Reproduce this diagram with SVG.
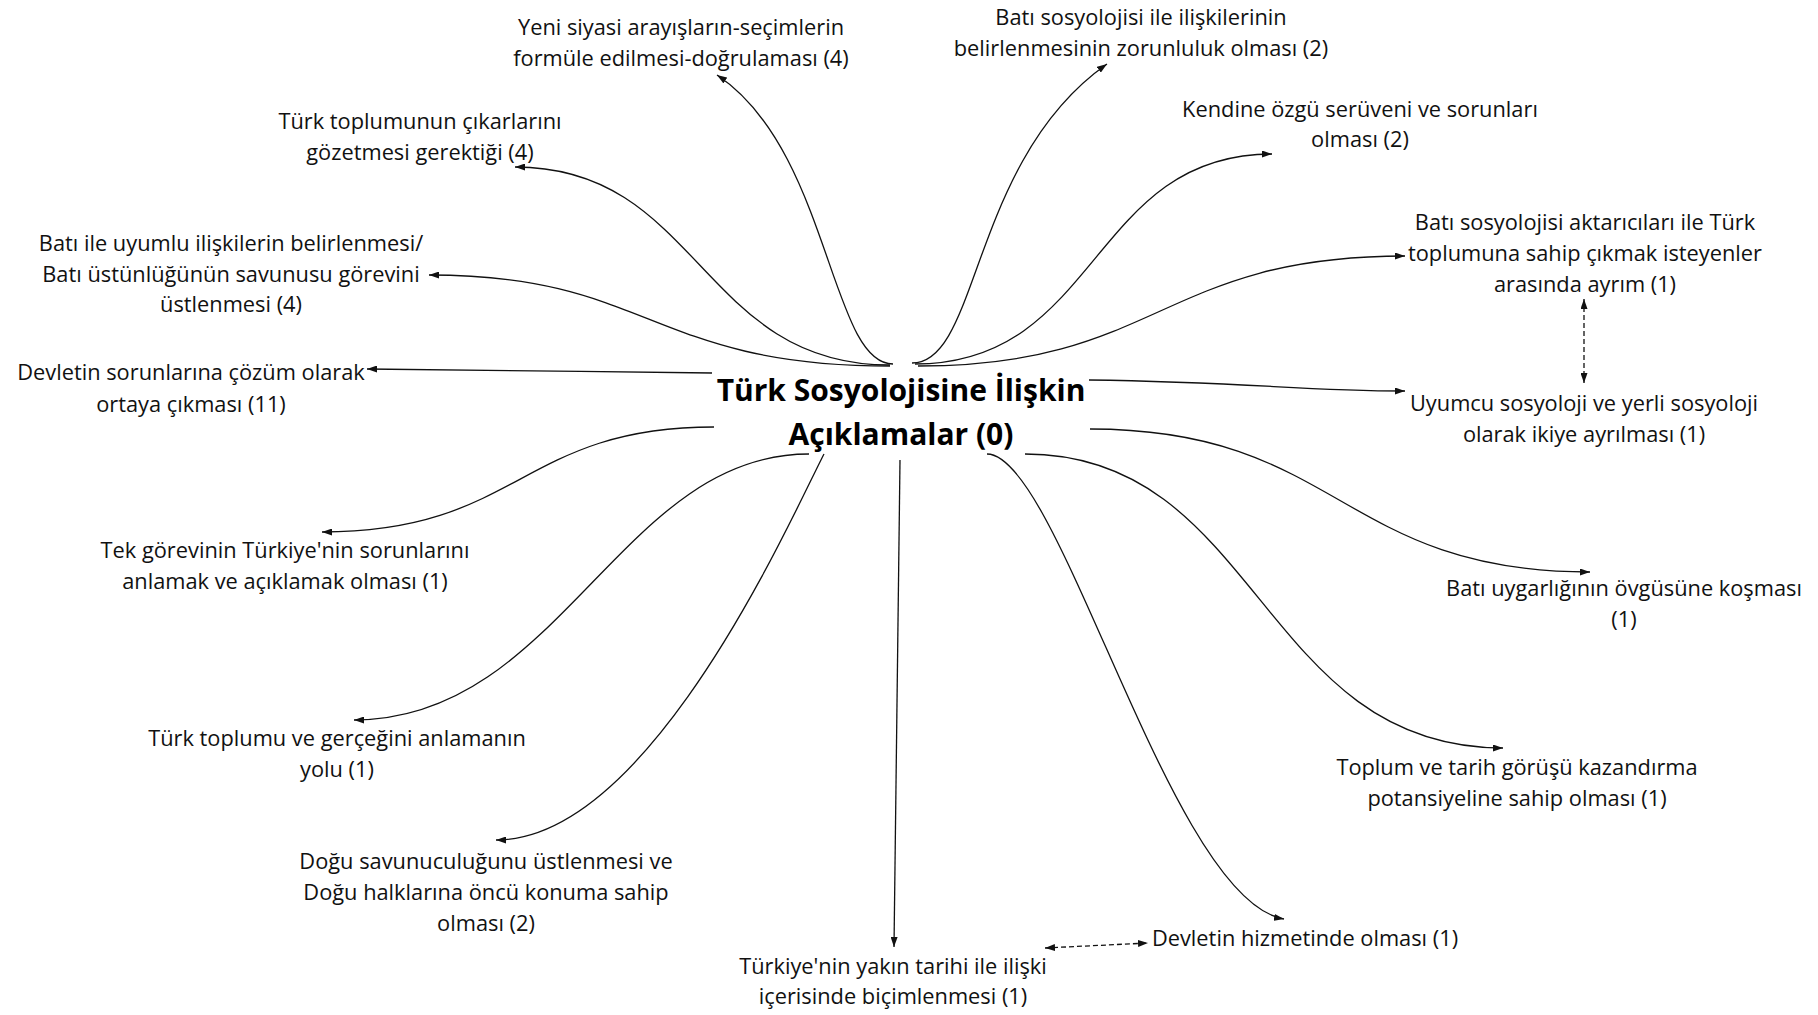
<svg xmlns="http://www.w3.org/2000/svg" width="1818" height="1015" viewBox="0 0 1818 1015">
<style>
.lbl{font-family:"Open Sans","Noto Sans",sans-serif;font-size:21.8px;fill:#111;text-anchor:middle}
.ttl{font-family:"Open Sans","Noto Sans",sans-serif;font-size:30px;font-weight:bold;fill:#000;text-anchor:middle}
.c{fill:none;stroke:#111;stroke-width:1.3;marker-end:url(#ah)}
.d{fill:none;stroke:#111;stroke-width:1.3;stroke-dasharray:5 3;marker-end:url(#ah);marker-start:url(#ah)}
</style>
<defs>
<marker id="ah" viewBox="0 0 10 7" refX="10" refY="3.5" markerWidth="10" markerHeight="7" markerUnits="userSpaceOnUse" orient="auto-start-reverse">
<path d="M0,0 L10,3.5 L0,7 z" fill="#111"/>
</marker>
</defs>
<rect width="1818" height="1015" fill="#fff"/>
<g id="connectors">
<path class="c" d="M893,364 C830,364 830,150 717,75"/>
<path class="c" d="M890,365 C700,365 700,167 515,167"/>
<path class="c" d="M890,366 C650,366 650,275 429,275"/>
<path class="c" d="M712,373 C600,372 450,369 367,369"/>
<path class="c" d="M912,363 C980,363 970,160 1107,64"/>
<path class="c" d="M915,364 C1100,364 1090,154 1272,154"/>
<path class="c" d="M918,366 C1160,366 1160,256 1405,256"/>
<path class="c" d="M1089,380 C1250,382 1300,391 1405,391"/>
<path class="c" d="M714,427 C520,427 520,532 322,532"/>
<path class="c" d="M809,454 C620,454 560,720 354,720"/>
<path class="c" d="M824,454 C790,520 650,840 496,840"/>
<path class="c" d="M900,460 L894,947"/>
<path class="c" d="M987,454 C1060,454 1170,900 1284,919"/>
<path class="c" d="M1025,454 C1260,454 1260,748 1503,748"/>
<path class="c" d="M1090,429 C1340,429 1340,572 1590,572"/>
<path class="d" d="M1584,299 L1584,383"/>
<path class="d" d="M1045,948 L1148,943"/>
</g>
<g id="center"><text class="ttl" x="901" y="401">Türk Sosyolojisine İlişkin</text><text class="ttl" x="901" y="445">Açıklamalar (0)</text></g>
<g id="nA"><text class="lbl" x="681" y="35">Yeni siyasi arayışların-seçimlerin</text><text class="lbl" x="681" y="66">formüle edilmesi-doğrulaması (4)</text></g>
<g id="nB"><text class="lbl" x="1141" y="24.5">Batı sosyolojisi ile ilişkilerinin</text><text class="lbl" x="1141" y="56">belirlenmesinin zorunluluk olması (2)</text></g>
<g id="nC"><text class="lbl" x="420" y="129">Türk toplumunun çıkarlarını</text><text class="lbl" x="420" y="160">gözetmesi gerektiği (4)</text></g>
<g id="nD"><text class="lbl" x="1360" y="117">Kendine özgü serüveni ve sorunları</text><text class="lbl" x="1360" y="147">olması (2)</text></g>
<g id="nE"><text class="lbl" x="231" y="250.5">Batı ile uyumlu ilişkilerin belirlenmesi/</text><text class="lbl" x="231" y="282">Batı üstünlüğünün savunusu görevini</text><text class="lbl" x="231" y="312">üstlenmesi (4)</text></g>
<g id="nF"><text class="lbl" x="1585" y="230">Batı sosyolojisi aktarıcıları ile Türk</text><text class="lbl" x="1585" y="261">toplumuna sahip çıkmak isteyenler</text><text class="lbl" x="1585" y="292">arasında ayrım (1)</text></g>
<g id="nG"><text class="lbl" x="191" y="380">Devletin sorunlarına çözüm olarak</text><text class="lbl" x="191" y="412">ortaya çıkması (11)</text></g>
<g id="nH"><text class="lbl" x="1584" y="410.5">Uyumcu sosyoloji ve yerli sosyoloji</text><text class="lbl" x="1584" y="442">olarak ikiye ayrılması (1)</text></g>
<g id="nI"><text class="lbl" x="285" y="558">Tek görevinin Türkiye'nin sorunlarını</text><text class="lbl" x="285" y="589">anlamak ve açıklamak olması (1)</text></g>
<g id="nJ"><text class="lbl" x="1624" y="596">Batı uygarlığının övgüsüne koşması</text><text class="lbl" x="1624" y="627">(1)</text></g>
<g id="nK"><text class="lbl" x="337" y="745.5">Türk toplumu ve gerçeğini anlamanın</text><text class="lbl" x="337" y="777">yolu (1)</text></g>
<g id="nL"><text class="lbl" x="1517" y="774.5">Toplum ve tarih görüşü kazandırma</text><text class="lbl" x="1517" y="806">potansiyeline sahip olması (1)</text></g>
<g id="nM"><text class="lbl" x="486" y="868.5">Doğu savunuculuğunu üstlenmesi ve</text><text class="lbl" x="486" y="900">Doğu halklarına öncü konuma sahip</text><text class="lbl" x="486" y="931">olması (2)</text></g>
<g id="nN"><text class="lbl" x="1305" y="946">Devletin hizmetinde olması (1)</text></g>
<g id="nO"><text class="lbl" x="893" y="974">Türkiye'nin yakın tarihi ile ilişki</text><text class="lbl" x="893" y="1004">içerisinde biçimlenmesi (1)</text></g>
</svg>
